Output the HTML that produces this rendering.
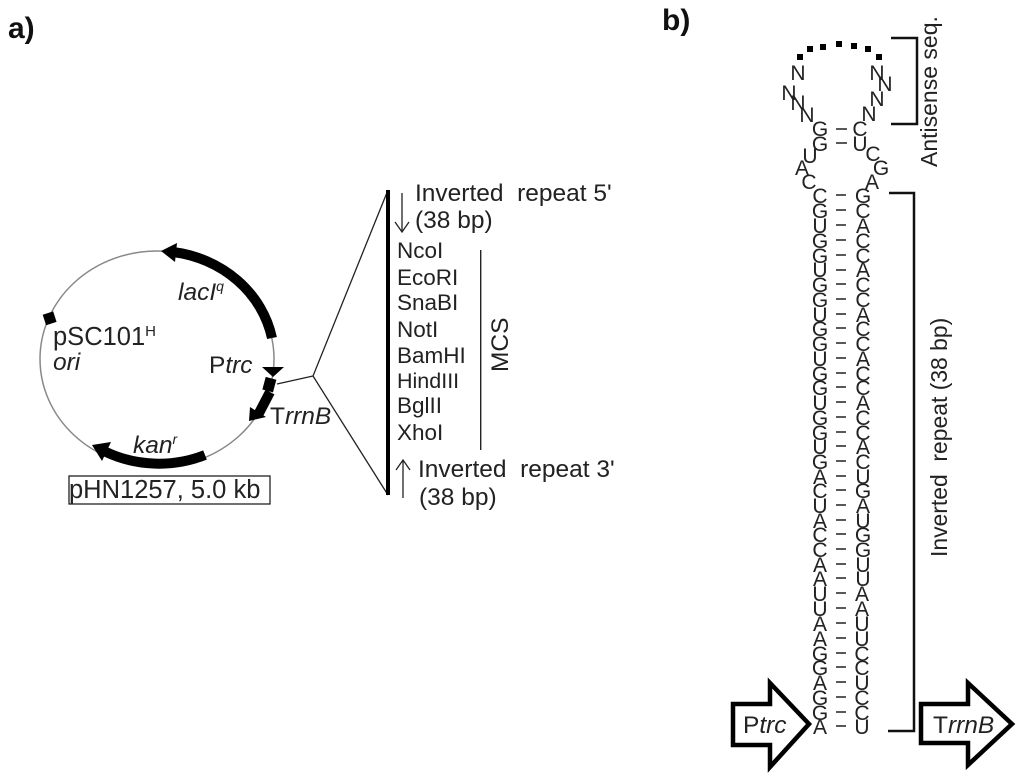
<!DOCTYPE html>
<html><head><meta charset="utf-8"><style>
html,body{margin:0;padding:0;background:#fff}
svg{display:block;filter:blur(0.35px)}
text{font-family:"Liberation Sans",sans-serif;fill:#222}
.s text{font-size:21px;text-anchor:middle}
.m{font-size:22.5px}
.l{font-size:24.5px}
.i{font-style:italic}
</style></head><body>
<svg width="1024" height="780" viewBox="0 0 1024 780" xmlns="http://www.w3.org/2000/svg">
<text x="8" y="38" style="font-size:30px;font-weight:bold;fill:#111">a)</text>
<text x="662" y="30" style="font-size:30px;font-weight:bold;fill:#111">b)</text>

<ellipse cx="157" cy="359" rx="117" ry="108" fill="none" stroke="#888" stroke-width="1.5"/>
<path d="M272 338 A117 108 0 0 0 173 252" fill="none" stroke="#000" stroke-width="10"/>
<polygon points="161,251 177,243 175,262" fill="#000"/>
<path d="M205 455 A117 108 0 0 1 106 452" fill="none" stroke="#000" stroke-width="10"/>
<polygon points="92,445 111,442 102,461" fill="#000"/>
<path d="M270 392 L258 415" fill="none" stroke="#000" stroke-width="10"/>
<polygon points="249,421 250,407 266,417" fill="#000"/>
<rect x="44" y="313" width="11" height="11" transform="rotate(-18 49 318)" fill="#000"/>
<polygon points="262,367 284,367 273,377" fill="#000"/>
<rect x="264" y="378" width="11" height="13" transform="rotate(15 269 384)" fill="#000"/>

<text x="178" y="300" class="l i">lacI<tspan font-size="14" dy="-9">q</tspan></text>
<text x="53" y="345" class="l" style="font-size:25.5px">pSC101<tspan font-size="15" dy="-9">H</tspan></text>
<text x="53" y="370" class="l i">ori</text>
<text x="209" y="373" class="l">P<tspan class="i">trc</tspan></text>
<text x="270" y="424" class="l">T<tspan class="i">rrnB</tspan></text>
<text x="133" y="453" class="l i">kan<tspan font-size="14" dy="-9">r</tspan></text>
<rect x="69" y="476" width="201" height="28" fill="#fff" stroke="#222" stroke-width="1.3"/>
<text x="69" y="498" class="l" style="font-size:25.5px">pHN1257, 5.0 kb</text>

<path d="M388 190 L313 376 L388 495 M313 376 L277 384" fill="none" stroke="#222" stroke-width="1.3"/>
<rect x="386" y="190" width="4" height="305" fill="#000"/>
<path d="M402 193 V232 M395 222 L402 232 L409 222" fill="none" stroke="#222" stroke-width="1.3"/>
<path d="M403 498 V460 M396 470 L403 460 L410 470" fill="none" stroke="#222" stroke-width="1.3"/>
<rect x="480" y="250" width="1.4" height="200" fill="#222"/>
<text x="415" y="201" class="l" xml:space="preserve">Inverted  repeat 5'</text>
<text x="415" y="228" class="l">(38 bp)</text>
<text x="418" y="477" class="l" xml:space="preserve">Inverted  repeat 3'</text>
<text x="419" y="505" class="l">(38 bp)</text>
<text x="397" y="258" class="m">NcoI</text>
<text x="397" y="285" class="m">EcoRI</text>
<text x="397" y="310" class="m">SnaBI</text>
<text x="397" y="337" class="m">NotI</text>
<text x="397" y="363" class="m">BamHI</text>
<text x="397" y="388" class="m" style="font-size:21.5px">HindIII</text>
<text x="397" y="413" class="m">BglII</text>
<text x="397" y="440" class="m">XhoI</text>
<text transform="translate(508,372) rotate(-90)" class="l">MCS</text>

<g class="s">
<text x="798" y="80">N</text><text x="789" y="100">N</text><text x="798" y="110">N</text><text x="807" y="122">N</text>
<text x="877" y="80">N</text><text x="885" y="91">N</text><text x="877" y="106">N</text><text x="869" y="121">N</text>
<text x="820" y="136">G</text><text x="860" y="136">C</text>
<text x="820" y="151">G</text><text x="860" y="151">U</text>
<text x="810" y="163">U</text><text x="802" y="175">A</text><text x="809" y="189">C</text>
<text x="873" y="161">C</text><text x="881" y="175">G</text><text x="872" y="189">A</text>

<text x="820" y="203">C</text><text x="863" y="203">G</text>
<text x="820" y="218">G</text><text x="863" y="218">C</text>
<text x="820" y="233">U</text><text x="863" y="233">A</text>
<text x="820" y="248">G</text><text x="863" y="248">C</text>
<text x="820" y="263">G</text><text x="863" y="263">C</text>
<text x="820" y="277">U</text><text x="863" y="277">A</text>
<text x="820" y="292">G</text><text x="863" y="292">C</text>
<text x="820" y="307">G</text><text x="863" y="307">C</text>
<text x="820" y="322">U</text><text x="863" y="322">A</text>
<text x="820" y="336">G</text><text x="863" y="336">C</text>
<text x="820" y="351">G</text><text x="863" y="351">C</text>
<text x="820" y="366">U</text><text x="863" y="366">A</text>
<text x="820" y="381">G</text><text x="863" y="381">C</text>
<text x="820" y="395">G</text><text x="863" y="395">C</text>
<text x="820" y="410">U</text><text x="863" y="410">A</text>
<text x="820" y="425">G</text><text x="863" y="425">C</text>
<text x="820" y="440">G</text><text x="863" y="440">C</text>
<text x="820" y="454">U</text><text x="863" y="454">A</text>
<text x="820" y="469">G</text><text x="863" y="469">C</text>
<text x="820" y="484">A</text><text x="863" y="484">U</text>
<text x="820" y="498">C</text><text x="863" y="498">G</text>
<text x="820" y="513">U</text><text x="863" y="513">A</text>
<text x="820" y="528">A</text><text x="863" y="528">U</text>
<text x="820" y="542">C</text><text x="863" y="542">G</text>
<text x="820" y="557">C</text><text x="863" y="557">G</text>
<text x="820" y="572">A</text><text x="863" y="572">U</text>
<text x="820" y="586">A</text><text x="863" y="586">U</text>
<text x="820" y="601">U</text><text x="862" y="601">A</text>
<text x="820" y="616">U</text><text x="862" y="616">A</text>
<text x="820" y="631">A</text><text x="862" y="631">U</text>
<text x="820" y="646">A</text><text x="862" y="646">U</text>
<text x="820" y="661">G</text><text x="862" y="661">C</text>
<text x="820" y="675">G</text><text x="862" y="675">C</text>
<text x="820" y="690">A</text><text x="862" y="690">U</text>
<text x="820" y="705">G</text><text x="862" y="705">C</text>
<text x="820" y="720">G</text><text x="862" y="720">C</text>
<text x="820" y="734">A</text><text x="862" y="734">U</text>
</g>

<g stroke="#222" stroke-width="1.6">
<path d="M836 129H847M836 143H847M836 195H846M836 210H846M836 225H846M836 240H846M836 255H846M836 270H846M836 284H846M836 299H846M836 314H846M836 328H846M836 343H846M836 358H846M836 373H846M836 387H846M836 402H846M836 417H846M836 432H846M836 446H846M836 461H846M836 476H846M836 490H846M836 505H846M836 520H846M836 534H846M836 549H846M836 564H846M836 578H846M836 593H846M836 608H846M836 623H846M836 638H846M836 653H846M836 667H846M836 682H846M836 697H846M836 712H846M836 726H846"/>
</g>

<g fill="#000">
<rect x="797" y="54" width="6" height="6"/><rect x="807" y="46" width="6" height="6"/><rect x="820" y="44" width="6" height="6"/><rect x="836" y="41" width="6" height="6"/><rect x="851" y="43" width="6" height="6"/><rect x="865" y="46" width="6" height="6"/><rect x="876" y="54" width="6" height="6"/>
</g>
<path d="M891 38H917V124H891" fill="none" stroke="#111" stroke-width="2.5"/>
<path d="M889 193H914V731H888" fill="none" stroke="#111" stroke-width="2.5"/>
<text transform="translate(937,167) rotate(-90)" style="font-size:23px">Antisense seq.</text>
<text transform="translate(947,557) rotate(-90)" style="font-size:22.9px" xml:space="preserve">Inverted  repeat (38 bp)</text>

<polygon points="733,704 770,704 770,683 809,724 770,767 770,745 733,745" fill="#fff" stroke="#000" stroke-width="4.5"/>
<polygon points="921,704 968,704 968,683 1012,724 968,765 968,743 921,743" fill="#fff" stroke="#000" stroke-width="4.5"/>
<text x="743" y="733" class="l">P<tspan class="i">trc</tspan></text>
<text x="933" y="733" class="l">T<tspan class="i">rrnB</tspan></text>
</svg>
</body></html>
